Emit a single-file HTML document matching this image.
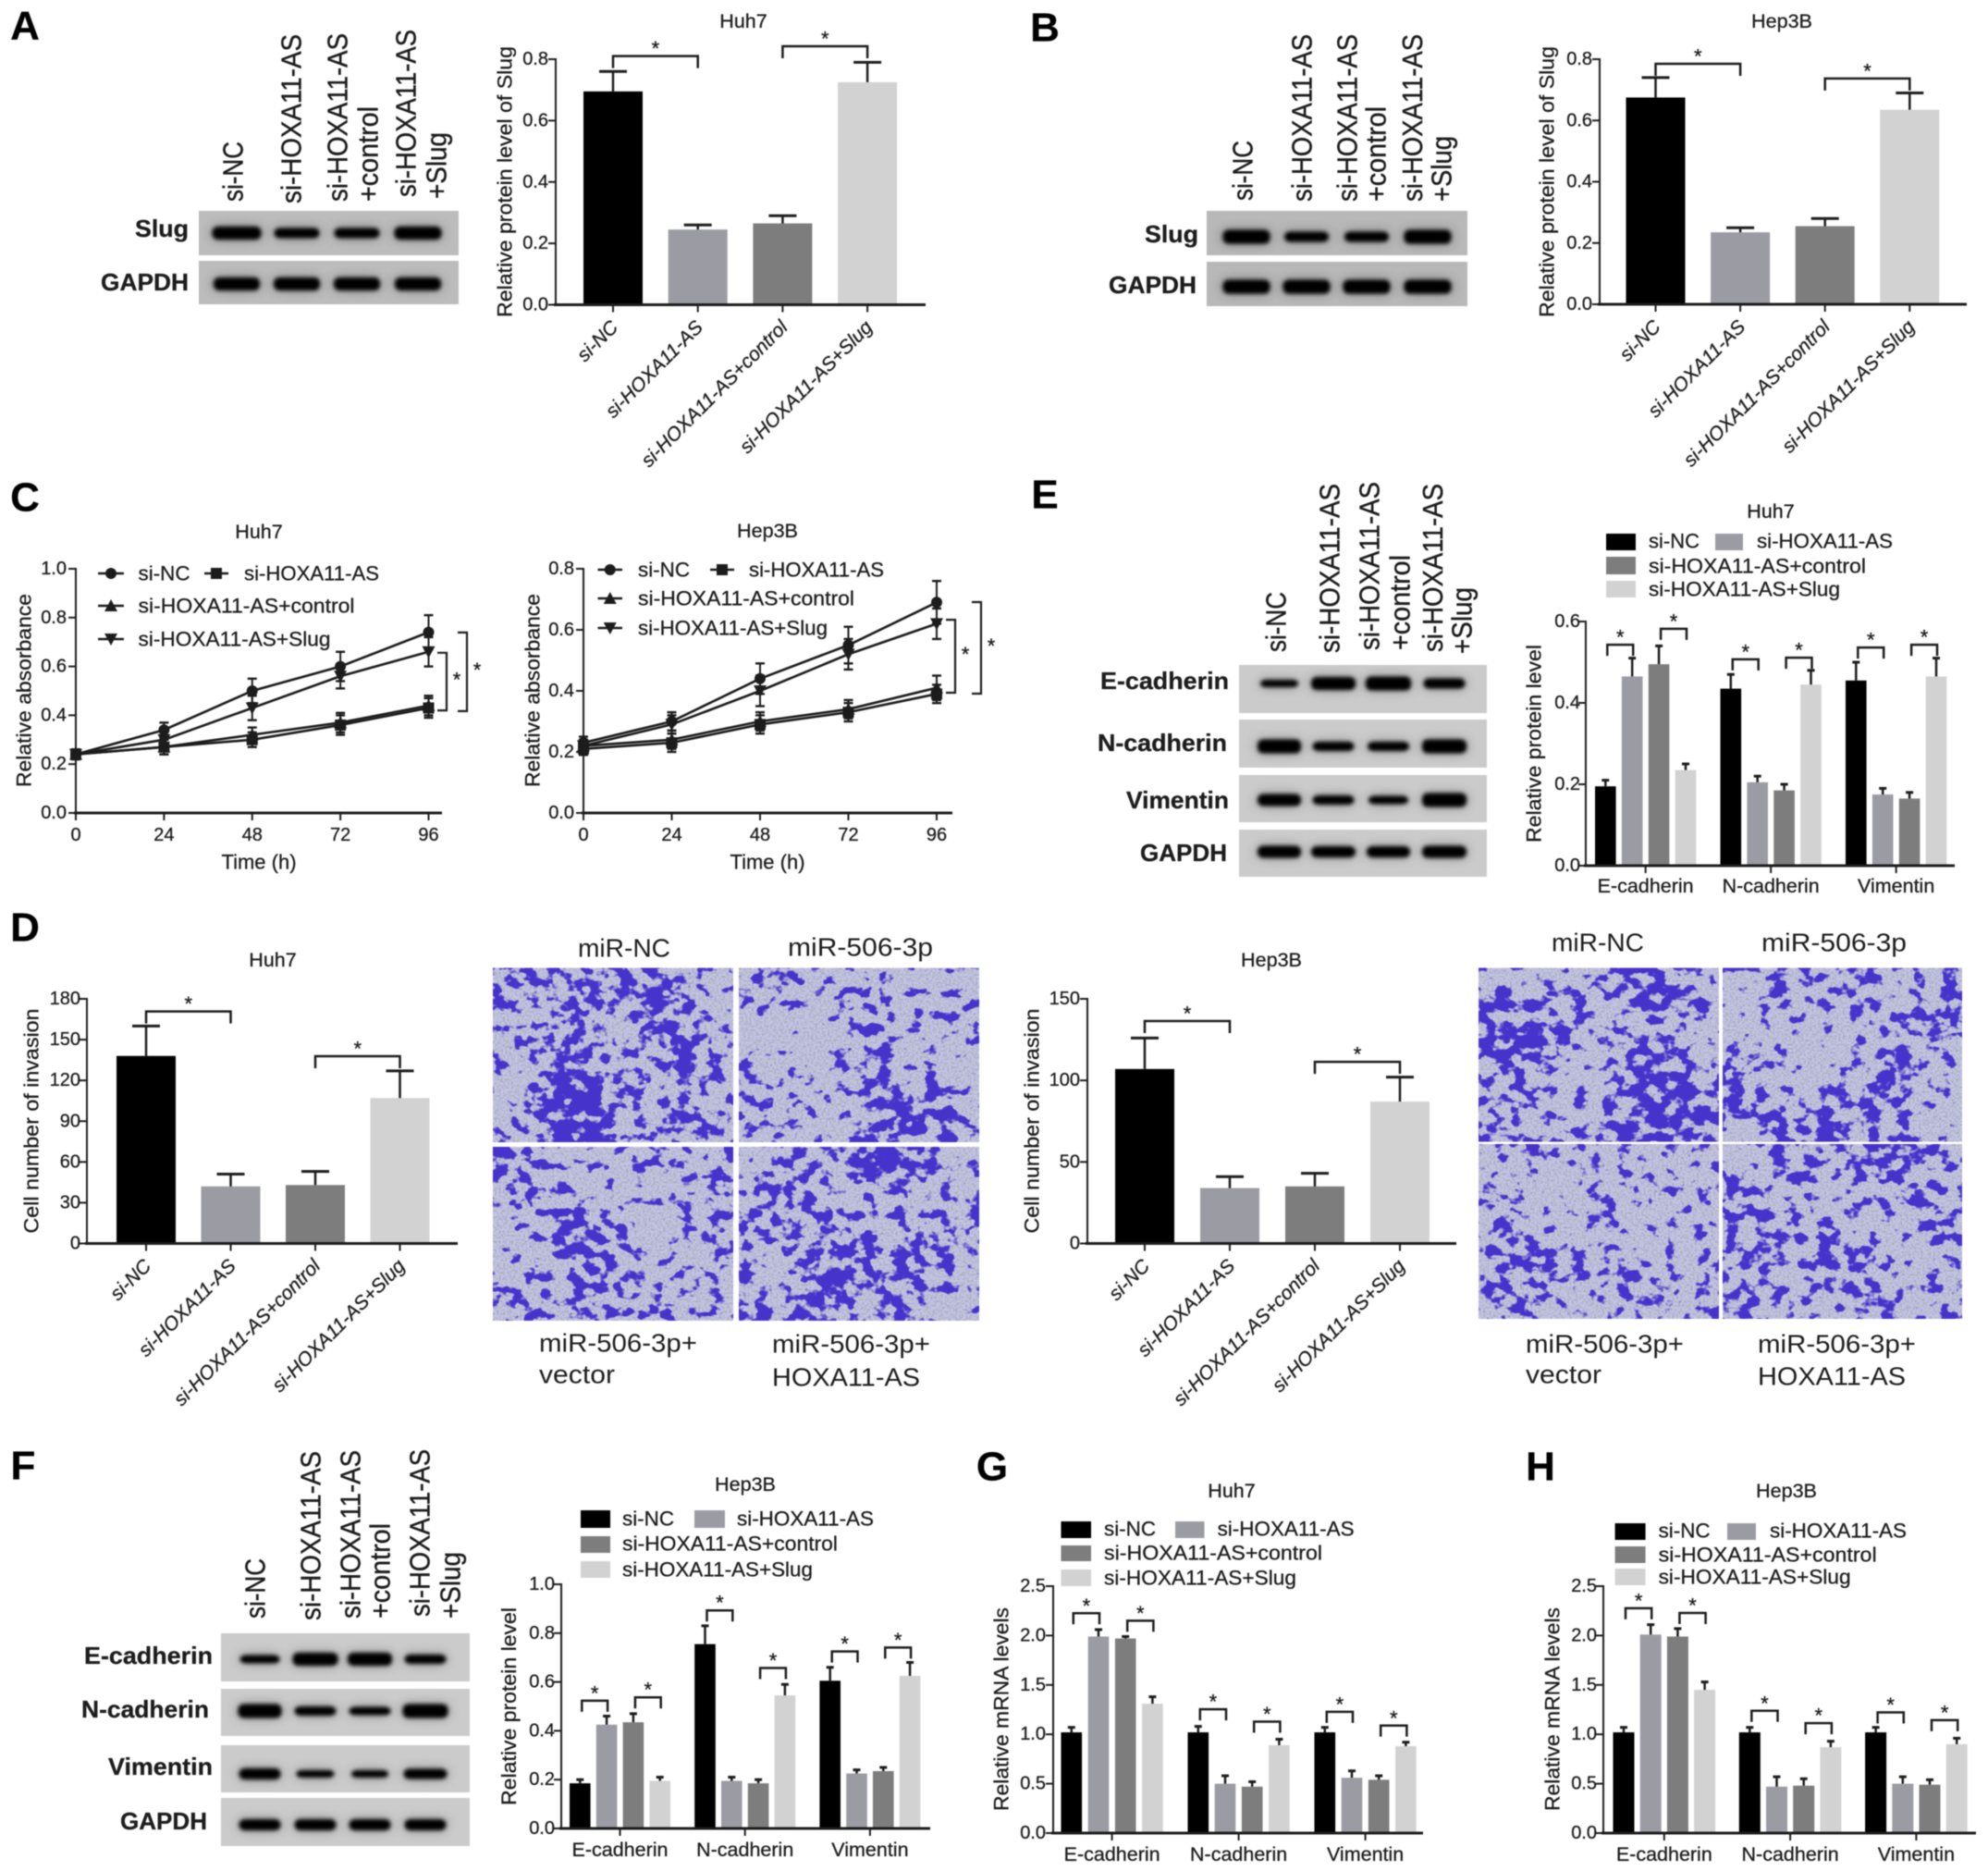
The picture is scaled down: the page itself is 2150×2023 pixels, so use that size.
<!DOCTYPE html>
<html lang="en">
<head>
<meta charset="utf-8">
<title>Slug and HOXA11-AS figure</title>
<style>
html,body{margin:0;padding:0;background:#fff;}
#figure{display:block;width:2150px;height:2023px;filter:blur(.6px);}
text{font-family:"Liberation Sans",Arial,sans-serif;fill:#1c1c1c;stroke:#1c1c1c;stroke-width:.3px;}
.letter{font-size:44px;font-weight:bold;fill:#000;text-anchor:middle;dominant-baseline:central;}
.blot-label{font-size:26px;font-weight:bold;text-anchor:end;dominant-baseline:central;}
.lane{font-size:31px;dominant-baseline:central;stroke-width:.4px;}
.caption{font-size:28px;dominant-baseline:central;stroke-width:0;}
</style>
</head>
<body>
<svg id="figure" width="2150" height="2023" viewBox="0 0 2150 2023">
<defs id="defs">
<filter id="bandBlur" x="-30%" y="-200%" width="160%" height="500%" color-interpolation-filters="sRGB">
<feGaussianBlur in="SourceGraphic" stdDeviation="7 6" result="h"/>
<feComponentTransfer in="h" result="halo"><feFuncA type="linear" slope=".36"/></feComponentTransfer>
<feGaussianBlur in="SourceGraphic" stdDeviation="2" result="core"/>
<feMerge><feMergeNode in="halo"/><feMergeNode in="core"/></feMerge>
</filter>
</defs>
<rect x="0" y="0" width="2150" height="2023" fill="#fff"/>

<text class="letter" x="27" y="28">A</text>
<text class="letter" x="1130" y="30">B</text>
<text class="letter" x="27" y="538">C</text>
<text class="letter" x="1130" y="535">E</text>
<text class="letter" x="27" y="1003">D</text>
<text class="letter" x="25" y="1585">F</text>
<text class="letter" x="1073" y="1586">G</text>
<text class="letter" x="1666" y="1586">H</text>

<g id="blots"></g>

<g>
<text class="blot-label" x="204" y="247" textLength="58" lengthAdjust="spacingAndGlyphs">Slug</text>
<text class="blot-label" x="204" y="305" textLength="95" lengthAdjust="spacingAndGlyphs">GAPDH</text>
<text class="blot-label" x="1296" y="253" textLength="58" lengthAdjust="spacingAndGlyphs">Slug</text>
<text class="blot-label" x="1294" y="308" textLength="95" lengthAdjust="spacingAndGlyphs">GAPDH</text>
<text class="blot-label" x="1329" y="736" textLength="139" lengthAdjust="spacingAndGlyphs">E-cadherin</text>
<text class="blot-label" x="1327" y="803" textLength="140" lengthAdjust="spacingAndGlyphs">N-cadherin</text>
<text class="blot-label" x="1329" y="865" textLength="111" lengthAdjust="spacingAndGlyphs">Vimentin</text>
<text class="blot-label" x="1327" y="922" textLength="94" lengthAdjust="spacingAndGlyphs">GAPDH</text>
<text class="blot-label" x="230" y="1790" textLength="139" lengthAdjust="spacingAndGlyphs">E-cadherin</text>
<text class="blot-label" x="226" y="1848" textLength="138" lengthAdjust="spacingAndGlyphs">N-cadherin</text>
<text class="blot-label" x="230" y="1910" textLength="113" lengthAdjust="spacingAndGlyphs">Vimentin</text>
<text class="blot-label" x="224" y="1969" textLength="94" lengthAdjust="spacingAndGlyphs">GAPDH</text>
</g>

<g>
<text class="lane" transform="translate(252,218) rotate(-90)" textLength="65" lengthAdjust="spacingAndGlyphs">si-NC</text>
<text class="lane" transform="translate(315,220) rotate(-90)" textLength="183" lengthAdjust="spacingAndGlyphs">si-HOXA11-AS</text>
<text class="lane" transform="translate(365,218) rotate(-90)" textLength="182" lengthAdjust="spacingAndGlyphs">si-HOXA11-AS</text>
<text class="lane" transform="translate(398,218) rotate(-90)" textLength="103" lengthAdjust="spacingAndGlyphs">+control</text>
<text class="lane" transform="translate(439,213) rotate(-90)" textLength="181" lengthAdjust="spacingAndGlyphs">si-HOXA11-AS</text>
<text class="lane" transform="translate(472,215) rotate(-90)" textLength="72" lengthAdjust="spacingAndGlyphs">+Slug</text>

<text class="lane" transform="translate(1344,217) rotate(-90)" textLength="65" lengthAdjust="spacingAndGlyphs">si-NC</text>
<text class="lane" transform="translate(1408,218) rotate(-90)" textLength="181" lengthAdjust="spacingAndGlyphs">si-HOXA11-AS</text>
<text class="lane" transform="translate(1457,218) rotate(-90)" textLength="181" lengthAdjust="spacingAndGlyphs">si-HOXA11-AS</text>
<text class="lane" transform="translate(1488,218) rotate(-90)" textLength="103" lengthAdjust="spacingAndGlyphs">+control</text>
<text class="lane" transform="translate(1527.5,218) rotate(-90)" textLength="181" lengthAdjust="spacingAndGlyphs">si-HOXA11-AS</text>
<text class="lane" transform="translate(1559,218) rotate(-90)" textLength="71" lengthAdjust="spacingAndGlyphs">+Slug</text>

<text class="lane" transform="translate(1380,705) rotate(-90)" textLength="65" lengthAdjust="spacingAndGlyphs">si-NC</text>
<text class="lane" transform="translate(1438,706) rotate(-90)" textLength="183" lengthAdjust="spacingAndGlyphs">si-HOXA11-AS</text>
<text class="lane" transform="translate(1481,703) rotate(-90)" textLength="182" lengthAdjust="spacingAndGlyphs">si-HOXA11-AS</text>
<text class="lane" transform="translate(1514,703) rotate(-90)" textLength="103" lengthAdjust="spacingAndGlyphs">+control</text>
<text class="lane" transform="translate(1549.5,705) rotate(-90)" textLength="182" lengthAdjust="spacingAndGlyphs">si-HOXA11-AS</text>
<text class="lane" transform="translate(1581,707) rotate(-90)" textLength="72" lengthAdjust="spacingAndGlyphs">+Slug</text>

<text class="lane" transform="translate(276,1750) rotate(-90)" textLength="65" lengthAdjust="spacingAndGlyphs">si-NC</text>
<text class="lane" transform="translate(336,1752) rotate(-90)" textLength="183" lengthAdjust="spacingAndGlyphs">si-HOXA11-AS</text>
<text class="lane" transform="translate(379,1750) rotate(-90)" textLength="182" lengthAdjust="spacingAndGlyphs">si-HOXA11-AS</text>
<text class="lane" transform="translate(411,1750) rotate(-90)" textLength="103" lengthAdjust="spacingAndGlyphs">+control</text>
<text class="lane" transform="translate(454,1748) rotate(-90)" textLength="181" lengthAdjust="spacingAndGlyphs">si-HOXA11-AS</text>
<text class="lane" transform="translate(487,1750) rotate(-90)" textLength="72" lengthAdjust="spacingAndGlyphs">+Slug</text>
</g>

<g id="micrographs"></g>

<g>
<text class="caption" x="625" y="1025" textLength="100" lengthAdjust="spacingAndGlyphs">miR-NC</text>
<text class="caption" x="852" y="1024" textLength="157" lengthAdjust="spacingAndGlyphs">miR-506-3p</text>
<text class="caption" x="583" y="1452" textLength="171" lengthAdjust="spacingAndGlyphs">miR-506-3p+</text>
<text class="caption" x="583" y="1486" textLength="82" lengthAdjust="spacingAndGlyphs">vector</text>
<text class="caption" x="835" y="1453" textLength="171" lengthAdjust="spacingAndGlyphs">miR-506-3p+</text>
<text class="caption" x="835" y="1489" textLength="160" lengthAdjust="spacingAndGlyphs">HOXA11-AS</text>

<text class="caption" x="1678" y="1019" textLength="100" lengthAdjust="spacingAndGlyphs">miR-NC</text>
<text class="caption" x="1905" y="1019" textLength="157" lengthAdjust="spacingAndGlyphs">miR-506-3p</text>
<text class="caption" x="1650" y="1453" textLength="171" lengthAdjust="spacingAndGlyphs">miR-506-3p+</text>
<text class="caption" x="1650" y="1486" textLength="82" lengthAdjust="spacingAndGlyphs">vector</text>
<text class="caption" x="1901" y="1453" textLength="171" lengthAdjust="spacingAndGlyphs">miR-506-3p+</text>
<text class="caption" x="1901" y="1488" textLength="160" lengthAdjust="spacingAndGlyphs">HOXA11-AS</text>
</g>

<g id="charts"></g>
</svg>

<script>
/* ---------- shared categories ---------- */
const seriesNames = ['si-NC', 'si-HOXA11-AS', 'si-HOXA11-AS+control', 'si-HOXA11-AS+Slug'];
const proteinGroups = ['E-cadherin', 'N-cadherin', 'Vimentin'];
const timeLabels = ['0', '24', '48', '72', '96'];

/* ---------- panel A ---------- */
const panelAValues = [0.695, 0.245, 0.265, 0.725];
const panelAErrors = [0.065, 0.015, 0.025, 0.065];
const panelATicks = ['0.0', '0.2', '0.4', '0.6', '0.8'];
const panelABrackets = [[0, 1, 0.81], [2, 3, 0.842]];

/* ---------- panel B ---------- */
const panelBValues = [0.675, 0.235, 0.255, 0.635];
const panelBErrors = [0.065, 0.015, 0.025, 0.055];
const panelBTicks = ['0.0', '0.2', '0.4', '0.6', '0.8'];
const panelBBrackets = [[0, 1, 0.785], [2, 3, 0.737]];

/* ---------- panel C, Huh7 ---------- */
const panelCHuh7Ticks = ['0.0', '0.2', '0.4', '0.6', '0.8', '1.0'];
const panelCHuh7SiNC = [0.24, 0.34, 0.50, 0.60, 0.74];
const panelCHuh7SiNCErr = [0.02, 0.03, 0.05, 0.06, 0.07];
const panelCHuh7Si = [0.24, 0.27, 0.30, 0.36, 0.43];
const panelCHuh7SiErr = [0.02, 0.03, 0.03, 0.04, 0.04];
const panelCHuh7Control = [0.24, 0.27, 0.32, 0.37, 0.44];
const panelCHuh7ControlErr = [0.02, 0.03, 0.03, 0.04, 0.04];
const panelCHuh7Slug = [0.24, 0.30, 0.43, 0.56, 0.66];
const panelCHuh7SlugErr = [0.02, 0.04, 0.05, 0.05, 0.06];
const panelCHuh7Brackets = [[0.656, 0.42], [0.739, 0.417]];

/* ---------- panel C, Hep3B ---------- */
const panelCHep3BTicks = ['0.0', '0.2', '0.4', '0.6', '0.8'];
const panelCHep3BSiNC = [0.23, 0.30, 0.44, 0.55, 0.69];
const panelCHep3BSiNCErr = [0.02, 0.03, 0.05, 0.06, 0.07];
const panelCHep3BSi = [0.21, 0.23, 0.29, 0.33, 0.39];
const panelCHep3BSiErr = [0.02, 0.03, 0.03, 0.03, 0.03];
const panelCHep3BControl = [0.22, 0.24, 0.30, 0.34, 0.41];
const panelCHep3BControlErr = [0.02, 0.03, 0.03, 0.03, 0.04];
const panelCHep3BSlug = [0.22, 0.29, 0.40, 0.52, 0.62];
const panelCHep3BSlugErr = [0.02, 0.03, 0.05, 0.05, 0.05];
const panelCHep3BBrackets = [[0.633, 0.394], [0.691, 0.391]];

/* ---------- panel D ---------- */
const panelDHuh7Values = [138, 42, 43, 107];
const panelDHuh7Errors = [22, 9, 10, 20];
const panelDHuh7Ticks = ['0', '30', '60', '90', '120', '150', '180'];
const panelDHuh7Brackets = [[0, 1, 170.7], [2, 3, 137.8]];
const panelDHep3BValues = [107, 34, 35, 87];
const panelDHep3BErrors = [19, 7, 8, 15];
const panelDHep3BTicks = ['0', '50', '100', '150'];
const panelDHep3BBrackets = [[0, 1, 136.4], [2, 3, 111.4]];

/* ---------- panel E (rows: E-cadherin, N-cadherin, Vimentin) ---------- */
const panelEValues = [[0.195, 0.465, 0.495, 0.235], [0.435, 0.205, 0.185, 0.445], [0.455, 0.175, 0.165, 0.465]];
const panelEErrors = [[0.015, 0.045, 0.045, 0.015], [0.035, 0.015, 0.015, 0.035], [0.045, 0.015, 0.015, 0.045]];
const panelETicks = ['0.0', '0.2', '0.4', '0.6'];
const panelEBrackets = [[0, 0, 1, 0.543], [0, 2, 3, 0.582], [1, 0, 1, 0.507], [1, 2, 3, 0.511], [2, 0, 1, 0.536], [2, 2, 3, 0.543]];

/* ---------- panel F ---------- */
const panelFValues = [[0.185, 0.425, 0.435, 0.195], [0.755, 0.195, 0.185, 0.545], [0.605, 0.225, 0.235, 0.625]];
const panelFErrors = [[0.015, 0.035, 0.035, 0.015], [0.075, 0.015, 0.015, 0.045], [0.055, 0.015, 0.015, 0.055]];
const panelFTicks = ['0.0', '0.2', '0.4', '0.6', '0.8', '1.0'];
const panelFBrackets = [[0, 0, 1, 0.523], [0, 2, 3, 0.537], [1, 0, 1, 0.893], [1, 2, 3, 0.657], [2, 0, 1, 0.725], [2, 2, 3, 0.741]];

/* ---------- panel G ---------- */
const panelGValues = [[1.02, 1.99, 1.97, 1.31], [1.02, 0.50, 0.47, 0.89], [1.02, 0.56, 0.54, 0.88]];
const panelGErrors = [[0.05, 0.07, 0.02, 0.07], [0.06, 0.08, 0.05, 0.06], [0.05, 0.07, 0.04, 0.04]];
const panelGTicks = ['0.0', '0.5', '1.0', '1.5', '2.0', '2.5'];
const panelGBrackets = [[0, 0, 1, 2.226], [0, 2, 3, 2.15], [1, 0, 1, 1.253], [1, 2, 3, 1.128], [2, 0, 1, 1.228], [2, 2, 3, 1.088]];

/* ---------- panel H ---------- */
const panelHValues = [[1.02, 2.01, 1.99, 1.45], [1.02, 0.47, 0.48, 0.87], [1.02, 0.50, 0.49, 0.90]];
const panelHErrors = [[0.05, 0.10, 0.08, 0.08], [0.05, 0.10, 0.07, 0.06], [0.05, 0.07, 0.05, 0.06]];
const panelHTicks = ['0.0', '0.5', '1.0', '1.5', '2.0', '2.5'];
const panelHBrackets = [[0, 0, 1, 2.276], [0, 2, 3, 2.229], [1, 0, 1, 1.238], [1, 2, 3, 1.113], [2, 0, 1, 1.222], [2, 2, 3, 1.144]];

/* ---------- styling ---------- */
const seriesColors = ['#000000', '#9b9ba3', '#7d7d7d', '#d2d2d2'];
const ink = '#1c1c1c';

const root = document.getElementById('figure');
const NS = root.namespaceURI;
const chartsRoot = document.getElementById('charts');

function mk(parent, tag, attrs, name) {
  const el = document.createElementNS(NS, tag);
  for (const k in attrs) el.setAttribute(k, attrs[k]);
  
  
  parent.appendChild(el);
  return el;
}
function label(parent, x, y, str, size, name, o) {
  o = o || {};
  const a = {x: 0, y: 0, 'font-size': size, 'text-anchor': o.anchor || 'middle', 'dominant-baseline': 'central',
             transform: 'translate(' + x + ',' + y + ')' + (o.rot ? ' rotate(' + o.rot + ')' : '')};
  if (o.len) { a.textLength = o.len; a.lengthAdjust = 'spacingAndGlyphs'; }
  if (o.italic) a['font-style'] = 'italic';
  const el = mk(parent, 'text', a, name);
  el.textContent = str;
  return el;
}
function seg(parent, x1, y1, x2, y2, w, name) {
  return mk(parent, 'line', {x1: x1, y1: y1, x2: x2, y2: y2, stroke: ink, 'stroke-width': w}, name);
}
function yAxis(g, c, ticks) {
  seg(g, c.axisX, c.y0 + 1, c.axisX, c.yTop - 1, 2, 'y-axis-line');
  ticks.forEach(function (t) {
    const y = c.sy(parseFloat(t));
    seg(g, c.axisX - 8, y, c.axisX, y, 2, 'y-axis-tick');
    label(g, c.tickRight, y, t, 20, 'y-axis-tick-label', {anchor: 'end'});
  });
}
function xAxisLine(g, c) {
  seg(g, c.axisX - 2, c.y0, c.axisEnd, c.y0, 3, 'x-axis-line');
}
function scaleOf(c) {
  c.sy = function (v) { return c.y0 - v / c.yMax * (c.y0 - c.yTop); };
}
function titles(g, c) {
  label(g, c.title[1], c.title[2], c.title[0], 21.5, 'chart-title');
  label(g, c.yLabel[1], c.yLabel[2], c.yLabel[0], 22, 'y-axis-title', {rot: -90, len: c.yLabel[3]});
}
function bracket(g, x1, x2, y, leg) {
  mk(g, 'path', {d: 'M' + x1 + ' ' + (y + leg) + 'V' + y + 'H' + x2 + 'V' + (y + leg), fill: 'none', stroke: ink, 'stroke-width': 2.5}, 'significance-bracket');
  label(g, (x1 + x2) / 2, y - 8, '*', 22, 'significance-star');
}
function bar(g, x, w, c, v, err, color, capW, name) {
  mk(g, 'rect', {x: x, y: c.sy(v), width: w, height: c.y0 - c.sy(v), fill: color}, name);
  const cx = x + w / 2;
  seg(g, cx, c.sy(v), cx, c.sy(v + err), 2.5, 'error-bar');
  seg(g, cx - capW / 2, c.sy(v + err), cx + capW / 2, c.sy(v + err), 3, 'error-bar-cap');
}

/* simple four-bar charts (A, B, D) */
function simpleBars(c, values, errors, ticks, brackets) {
  scaleOf(c);
  const g = mk(chartsRoot, 'g', {}, c.name);
  titles(g, c);
  yAxis(g, c, ticks);
  const sx = function (i) { return c.firstLeft + i * c.pitch; };
  values.forEach(function (v, i) {
    bar(g, sx(i), c.barW, c, v, errors[i], seriesColors[i], 30, 'bar-' + seriesNames[i].toLowerCase().replace(/\+/g, '-'));
    const cx = sx(i) + c.barW / 2;
    seg(g, cx, c.y0, cx, c.y0 + 8, 2, 'x-axis-tick');
    label(g, cx + 2, c.y0 + 21, seriesNames[i], 21, 'x-axis-category-label', {anchor: 'end', rot: -45, italic: true});
  });
  xAxisLine(g, c);
  brackets.forEach(function (b) {
    bracket(g, sx(b[0]) + c.barW / 2, sx(b[1]) + c.barW / 2, c.sy(b[2]), 13);
  });
}

/* grouped bar charts (E, F, G, H) */
function groupedBars(c, values, errors, ticks, brackets) {
  scaleOf(c);
  const g = mk(chartsRoot, 'g', {}, c.name);
  titles(g, c);
  yAxis(g, c, ticks);
  const sx = function (gi, s) { return c.firstLeft + gi * c.groupPitch + s * c.pitch; };
  values.forEach(function (row, gi) {
    row.forEach(function (v, s) {
      bar(g, sx(gi, s), c.barW, c, v, errors[gi][s], seriesColors[s], 8, 'bar-' + proteinGroups[gi].toLowerCase() + '-' + s);
    });
    const cx = sx(gi, 0) + (3 * c.pitch + c.barW) / 2;
    seg(g, cx, c.y0, cx, c.y0 + 8, 2, 'x-axis-tick');
    label(g, cx, c.y0 + c.catDy, proteinGroups[gi], 21.5, 'x-axis-category-label');
  });
  xAxisLine(g, c);
  brackets.forEach(function (b) {
    bracket(g, sx(b[0], b[1]) + c.barW / 2 + 2, sx(b[0], b[2]) + c.barW / 2 + 1, c.sy(b[3]), 12);
  });
  c.legend.forEach(function (l, i) {
    mk(g, 'rect', {x: l[0], y: l[1], width: l[2], height: l[3], fill: seriesColors[i]}, 'legend-swatch');
    label(g, l[4], l[5], seriesNames[i], 22.5, 'legend-entry', {anchor: 'start', len: l[6]});
  });
}

/* line charts (C) */
function marker(g, type, x, y, name) {
  const r = 6;
  if (type === 0) mk(g, 'circle', {cx: x, cy: y, r: r, fill: ink}, name);
  if (type === 1) mk(g, 'rect', {x: x - r, y: y - r, width: 2 * r, height: 2 * r, fill: ink}, name);
  if (type === 2) mk(g, 'polygon', {points: x + ',' + (y - r - 1) + ' ' + (x + r + 1) + ',' + (y + r) + ' ' + (x - r - 1) + ',' + (y + r), fill: ink}, name);
  if (type === 3) mk(g, 'polygon', {points: x + ',' + (y + r + 1) + ' ' + (x + r + 1) + ',' + (y - r) + ' ' + (x - r - 1) + ',' + (y - r), fill: ink}, name);
}
function lineChart(c, series, errs, ticks, brackets) {
  scaleOf(c);
  const g = mk(chartsRoot, 'g', {}, c.name);
  titles(g, c);
  yAxis(g, c, ticks);
  const sx = function (h) { return c.x0 + h / 96 * (c.x96 - c.x0); };
  timeLabels.forEach(function (t) {
    const x = sx(parseFloat(t));
    seg(g, x, c.y0, x, c.y0 + 8, 2, 'x-axis-tick');
    label(g, x, c.y0 + 24, t, 20, 'x-axis-tick-label');
  });
  xAxisLine(g, c);
  label(g, c.xTitleX, c.y0 + 53, 'Time (h)', 22, 'x-axis-title');
  series.forEach(function (vals, s) {
    const pts = vals.map(function (v, i) { return sx(parseFloat(timeLabels[i])) + ',' + c.sy(v); }).join(' ');
    mk(g, 'polyline', {points: pts, fill: 'none', stroke: ink, 'stroke-width': 2.6}, 'series-line-' + s);
  });
  series.forEach(function (vals, s) {
    vals.forEach(function (v, i) {
      const x = sx(parseFloat(timeLabels[i]));
      const e = errs[s][i];
      seg(g, x, c.sy(v + e), x, c.sy(v - e), 2, 'error-bar');
      seg(g, x - 5, c.sy(v + e), x + 5, c.sy(v + e), 2.4, 'error-bar-cap');
      seg(g, x - 5, c.sy(v - e), x + 5, c.sy(v - e), 2.4, 'error-bar-cap');
      marker(g, s, x, c.sy(v), 'series-point-' + s);
    });
  });
  brackets.forEach(function (b, i) {
    const bx = c.bracketX[i];
    mk(g, 'path', {d: 'M' + bx + ' ' + c.sy(b[0]) + 'H' + (bx + 10) + 'V' + c.sy(b[1]) + 'H' + bx, fill: 'none', stroke: ink, 'stroke-width': 2.2}, 'significance-bracket');
    label(g, bx + 21, (c.sy(b[0]) + c.sy(b[1])) / 2 - 2, '*', 22, 'significance-star');
  });
  c.legend.forEach(function (l, i) {
    seg(g, l[0], l[2], l[1], l[2], 2.6, 'legend-line');
    marker(g, i, (l[0] + l[1]) / 2, l[2], 'legend-marker');
    label(g, l[3], l[2], seriesNames[i], 22.5, 'legend-entry', {anchor: 'start', len: l[4]});
  });
}

/* ---------- draw charts ---------- */
const proteinTitle = 'Relative protein level of Slug';
simpleBars({name: 'panel-a-slug-bar-chart', axisX: 601, axisEnd: 1001, y0: 329.5, yTop: 64, yMax: 0.8, tickRight: 593,
  firstLeft: 631, barW: 64, pitch: 91.7, title: ['Huh7', 804, 23], yLabel: [proteinTitle, 546, 196.5, 293]},
  panelAValues, panelAErrors, panelATicks, panelABrackets);
simpleBars({name: 'panel-b-slug-bar-chart', axisX: 1730, axisEnd: 2127, y0: 329, yTop: 64, yMax: 0.8, tickRight: 1722,
  firstLeft: 1758.5, barW: 64, pitch: 91.6, title: ['Hep3B', 1927, 23], yLabel: [proteinTitle, 1673, 196.5, 293]},
  panelBValues, panelBErrors, panelBTicks, panelBBrackets);
simpleBars({name: 'panel-d-huh7-invasion-bar-chart', axisX: 94, axisEnd: 495, y0: 1344.5, yTop: 1080, yMax: 180, tickRight: 87,
  firstLeft: 126, barW: 64, pitch: 91.5, title: ['Huh7', 295, 1038], yLabel: ['Cell number of invasion', 34, 1212, 243]},
  panelDHuh7Values, panelDHuh7Errors, panelDHuh7Ticks, panelDHuh7Brackets);
simpleBars({name: 'panel-d-hep3b-invasion-bar-chart', axisX: 1176, axisEnd: 1575, y0: 1344.5, yTop: 1080, yMax: 150, tickRight: 1168,
  firstLeft: 1206, barW: 64, pitch: 92, title: ['Hep3B', 1375, 1038], yLabel: ['Cell number of invasion', 1116, 1212, 243]},
  panelDHep3BValues, panelDHep3BErrors, panelDHep3BTicks, panelDHep3BBrackets);

lineChart({name: 'panel-c-huh7-line-chart', axisX: 82, axisEnd: 478, y0: 879, yTop: 615, yMax: 1.0, tickRight: 72,
  x0: 82, x96: 463.5, xTitleX: 280, bracketX: [473, 495], title: ['Huh7', 280, 575], yLabel: ['Relative absorbance', 26, 746.5, 209],
  legend: [[106, 134, 620, 149.5, 56], [221, 247, 620, 264, 146], [106, 134, 655, 149.5, 234], [106, 134, 691, 149.5, 208]]},
  [panelCHuh7SiNC, panelCHuh7Si, panelCHuh7Control, panelCHuh7Slug],
  [panelCHuh7SiNCErr, panelCHuh7SiErr, panelCHuh7ControlErr, panelCHuh7SlugErr], panelCHuh7Ticks, panelCHuh7Brackets);
lineChart({name: 'panel-c-hep3b-line-chart', axisX: 631, axisEnd: 1030, y0: 879, yTop: 615, yMax: 0.8, tickRight: 621,
  x0: 631, x96: 1013, xTitleX: 830, bracketX: [1023, 1051], title: ['Hep3B', 830, 574], yLabel: ['Relative absorbance', 576, 746.5, 209],
  legend: [[646.5, 673, 616, 690, 56], [768, 794, 616, 810, 146], [646.5, 673, 647, 690, 234], [646.5, 673, 679, 690, 205]]},
  [panelCHep3BSiNC, panelCHep3BSi, panelCHep3BControl, panelCHep3BSlug],
  [panelCHep3BSiNCErr, panelCHep3BSiErr, panelCHep3BControlErr, panelCHep3BSlugErr], panelCHep3BTicks, panelCHep3BBrackets);

groupedBars({name: 'panel-e-huh7-protein-bar-chart', axisX: 1715, axisEnd: 2114, y0: 936, yTop: 672, yMax: 0.6, tickRight: 1709,
  firstLeft: 1725, barW: 22.6, pitch: 28.9, groupPitch: 135.5, catDy: 22, title: ['Huh7', 1915, 553], yLabel: ['Relative protein level', 1659, 804, 214],
  legend: [[1737, 577, 32, 18, 1783, 585, 55], [1855, 577, 30, 18, 1900, 585, 147], [1737, 602, 32, 19, 1783, 612, 235], [1737, 628, 32, 18, 1783, 637, 207]]},
  panelEValues, panelEErrors, panelETicks, panelEBrackets);
groupedBars({name: 'panel-f-hep3b-protein-bar-chart', axisX: 607, axisEnd: 1006, y0: 1977, yTop: 1713, yMax: 1.0, tickRight: 600,
  firstLeft: 616, barW: 22.6, pitch: 28.8, groupPitch: 135.2, catDy: 23, title: ['Hep3B', 806, 1605], yLabel: ['Relative protein level', 550.5, 1845, 214],
  legend: [[628, 1633, 32, 19, 673, 1642, 56], [751, 1633, 33, 19, 797, 1642, 148], [628, 1661, 32, 18, 673, 1669, 233], [628, 1688, 32, 18, 673, 1697, 206]]},
  panelFValues, panelFErrors, panelFTicks, panelFBrackets);
groupedBars({name: 'panel-g-huh7-mrna-bar-chart', axisX: 1139, axisEnd: 1539, y0: 1982, yTop: 1715, yMax: 2.5, tickRight: 1131,
  firstLeft: 1147.5, barW: 22.6, pitch: 29.2, groupPitch: 137, catDy: 23, title: ['Huh7', 1332, 1612], yLabel: ['Relative mRNA levels', 1083, 1848, 220],
  legend: [[1147.5, 1645, 32.5, 18, 1194, 1653, 56], [1271, 1645, 31.5, 18, 1316.6, 1653, 148], [1147.5, 1671, 32.5, 17, 1194, 1679, 236], [1147.5, 1697, 32.5, 18, 1194, 1706, 208]]},
  panelGValues, panelGErrors, panelGTicks, panelGBrackets);
groupedBars({name: 'panel-h-hep3b-mrna-bar-chart', axisX: 1734, axisEnd: 2137, y0: 1982, yTop: 1715, yMax: 2.5, tickRight: 1727,
  firstLeft: 1744.5, barW: 23, pitch: 29.2, groupPitch: 136.3, catDy: 23, title: ['Hep3B', 1932, 1612], yLabel: ['Relative mRNA levels', 1679, 1848, 220],
  legend: [[1746.6, 1647, 33, 18, 1793.6, 1655, 56], [1868, 1647, 31, 18, 1914, 1655, 148], [1746.6, 1672, 33, 18, 1793.6, 1681, 236], [1746.6, 1696, 33, 18, 1793.6, 1705, 208]]},
  panelHValues, panelHErrors, panelHTicks, panelHBrackets);

/* ---------- western blot images (decorative photo stand-ins) ---------- */
const blotDefs = [
  {name: 'blot-a', x: 215, w: 281, bg: '#bcbcbc', centers: [256, 321, 386, 452], rows: [
    [228, 48, 252, [53, 49, 49, 51], [14, 11, 11, 14]],
    [282, 47, 307, [50, 50, 50, 50], [14, 14, 14, 14]]]},
  {name: 'blot-b', x: 1305, w: 282, bg: '#b8b8b8', centers: [1348, 1413, 1478, 1544], rows: [
    [228, 48, 256, [51, 48, 48, 51], [15, 11, 11, 15]],
    [283, 48, 310, [51, 51, 51, 51], [15, 15, 15, 15]]]},
  {name: 'blot-e', x: 1340, w: 268, bg: '#cbcbcb', centers: [1383.5, 1442, 1501.5, 1562], rows: [
    [719, 52, 739, [41, 48, 49, 45], [8, 14, 15, 11]],
    [778, 52, 807, [47, 45, 45, 48], [15, 10, 10, 15]],
    [838, 51, 865, [47, 45, 43, 48], [13, 10, 9, 15]],
    [897, 51, 921, [47, 48, 47, 48], [13, 12, 12, 13]]]},
  {name: 'blot-f', x: 239, w: 269, bg: '#cbcbcb', centers: [281, 341, 400, 460], rows: [
    [1766, 52, 1794, [43, 49, 48, 45], [9, 14, 14, 10]],
    [1826, 51, 1850, [47, 45, 45, 49], [15, 10, 9, 15]],
    [1887, 51, 1918, [45, 41, 40, 47], [12, 8, 8, 11]],
    [1944, 52, 1973, [45, 45, 45, 45], [12, 12, 12, 12]]]}
];
const blotsRoot = document.getElementById('blots');
blotDefs.forEach(function (b) {
  const g = mk(blotsRoot, 'g', {}, b.name);
  b.rows.forEach(function (r) {
    mk(g, 'rect', {x: b.x, y: r[0], width: b.w, height: r[1], fill: b.bg}, 'blot-strip');
    b.centers.forEach(function (cx, i) {
      mk(g, 'rect', {x: cx - r[3][i] / 2, y: r[2] - r[4][i] / 2, width: r[3][i], height: r[4][i], rx: 6, fill: '#000', filter: 'url(#bandBlur)'}, 'blot-band');
    });
  });
});

/* ---------- crystal-violet micrographs, textured with SVG turbulence ---------- */
const micrographDefs = [
  ['micrograph-huh7-mir-nc', 533, 1046.5, 260, 188.5, 3, 0.50],
  ['micrograph-huh7-mir-506-3p', 799, 1046.5, 260, 188.5, 11, 0.56],
  ['micrograph-huh7-mir-506-3p-vector', 533, 1240, 260, 188, 23, 0.55],
  ['micrograph-huh7-mir-506-3p-hoxa11-as', 799, 1240, 260, 188, 41, 0.49],
  ['micrograph-hep3b-mir-nc', 1599, 1046.5, 260, 188, 7, 0.505],
  ['micrograph-hep3b-mir-506-3p', 1863, 1046.5, 259, 188, 17, 0.55],
  ['micrograph-hep3b-mir-506-3p-vector', 1599, 1237, 260, 189, 29, 0.565],
  ['micrograph-hep3b-mir-506-3p-hoxa11-as', 1863, 1237, 259, 189, 37, 0.51]
];
const defs = document.getElementById('defs');
const microRoot = document.getElementById('micrographs');
micrographDefs.forEach(function (m, i) {
  const k = 11;
  const opaque = '1 0 0 0 0  0 1 0 0 0  0 0 1 0 0  0 0 0 0 1';
  const holder = document.createElementNS(NS, 'g');
  holder.innerHTML =
    '<filter id="mg' + i + '" x="0" y="0" width="100%" height="100%" color-interpolation-filters="sRGB">' +
    '<feFlood flood-color="#c3c5e2" result="bg"/>' +
    '<feTurbulence type="fractalNoise" baseFrequency="0.45" numOctaves="1" seed="' + (m[5] + 1) + '" result="fine"/>' +
    '<feColorMatrix in="fine" type="matrix" values="0 0 0 0 .55  0 0 0 0 .56  0 0 0 0 .62  1.5 0 0 0 -.62" result="spk"/>' +
    '<feTurbulence type="fractalNoise" baseFrequency="0.06 0.075" numOctaves="3" seed="' + m[5] + '" result="coarseRaw"/>' +
    '<feColorMatrix in="coarseRaw" type="matrix" values="' + opaque + '" result="coarse"/>' +
    '<feTurbulence type="fractalNoise" baseFrequency="0.012" numOctaves="1" seed="' + (m[5] + 5) + '" result="lowRaw"/>' +
    '<feColorMatrix in="lowRaw" type="matrix" values="' + opaque + '" result="low"/>' +
    '<feComposite in="coarse" in2="low" operator="arithmetic" k1="0" k2="1" k3=".6" k4="-.3" result="mix"/>' +
    '<feColorMatrix in="mix" type="matrix" values="0 0 0 0 .27  0 0 0 0 .2  0 0 0 0 .8  ' + k + ' 0 0 0 ' + (-k * m[6]) + '" result="cells"/>' +
    '<feMerge><feMergeNode in="bg"/><feMergeNode in="spk"/><feMergeNode in="cells"/></feMerge>' +
    '</filter>';
  defs.appendChild(holder.firstChild);
  mk(microRoot, 'rect', {x: m[1], y: m[2], width: m[3], height: m[4], fill: '#c3c5e2', filter: 'url(#mg' + i + ')'}, m[0]);
});
</script>
</body>
</html>
